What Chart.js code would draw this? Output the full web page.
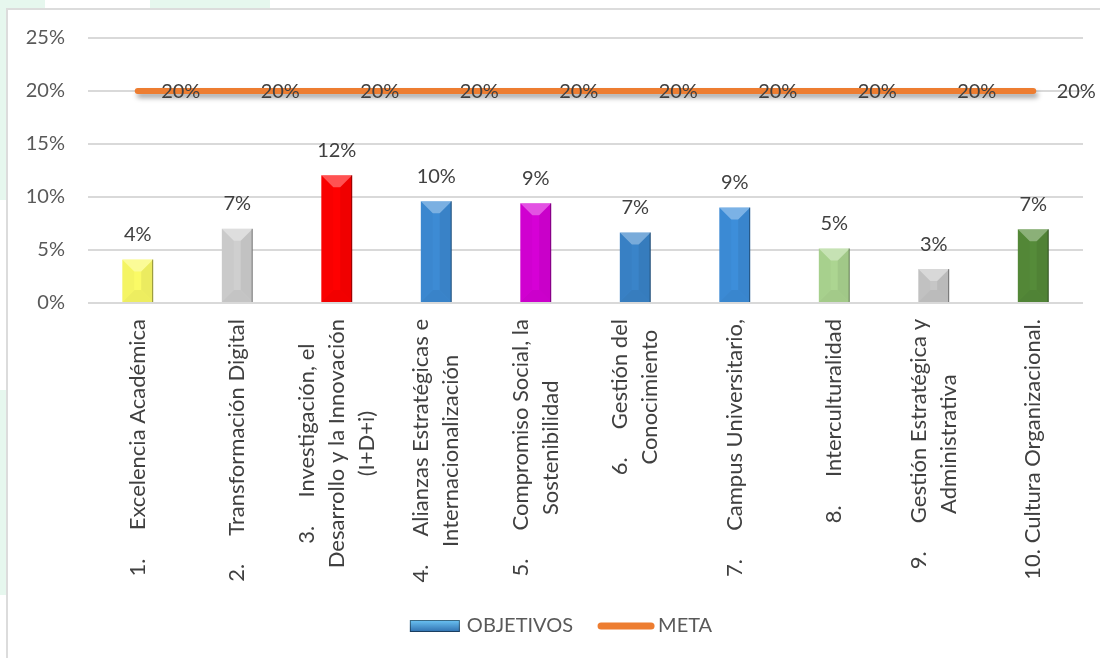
<!DOCTYPE html>
<html lang="es">
<head>
<meta charset="utf-8">
<title>Objetivos y meta</title>
<script src="https://cdn.jsdelivr.net/npm/chart.js@4"></script>
<style>
    html, body {
        margin: 0;
        width: 1100px;
        height: 658px;
        overflow: hidden;
        background: #ffffff;
        position: relative;
    }
    .mint {
        position: absolute;
        background: #e6f7ee;
    }
    #frame {
        position: absolute;
        left: 6px;
        top: 8px;
        width: 1130px;
        height: 700px;
        border: 2px solid #dcdcdc;
        background: #ffffff;
    }
    #frame canvas {
        position: absolute;
        left: 0;
        top: 0;
    }
</style>
</head>
<body>
<div class="mint" style="left:0;top:0;width:45px;height:200px"></div>
<div class="mint" style="left:150px;top:0;width:120px;height:12px"></div>
<div class="mint" style="left:0;top:390px;width:10px;height:205px"></div>
<div id="frame"><canvas id="objetivos" width="1106" height="650"></canvas></div>

<script>
const LABELS = [
    ['1.     Excelencia Académica'],
    ['2.     Transformación Digital'],
    ['3.     Investigación, el', 'Desarrollo y la Innovación', '(I+D+i)'],
    ['4.     Alianzas Estratégicas e', 'Internacionalización'],
    ['5.     Compromiso Social, la', 'Sostenibilidad'],
    ['6.     Gestión del', 'Conocimiento'],
    ['7.     Campus Universitario,'],
    ['8.     Interculturalidad'],
    ['9.     Gestión Estratégica y', 'Administrativa'],
    ['10. Cultura Organizacional.'],
];
const OBJETIVOS = [0.041, 0.070, 0.1205, 0.096, 0.094, 0.0665, 0.090, 0.0515, 0.032, 0.0695];
const META = [0.20, 0.20, 0.20, 0.20, 0.20, 0.20, 0.20, 0.20, 0.20, 0.20];
const Y_TICKS = [0, 0.05, 0.10, 0.15, 0.20, 0.25];

const BAR_COLORS = [
    '#fafa66',
    '#cfcfcf',
    '#ff0000',
    '#3d8bd4',
    '#d600d6',
    '#3a84c9',
    '#3d8eda',
    '#acd591',
    '#c6c6c6',
    '#558b39',
];
const META_COLOR = '#ed7d31';

const pct = v => Math.round(v * 100) + '%';

Chart.defaults.font.family = 'Lato';
Chart.defaults.font.size = 20;

// bevel look on every bar: light top edge, darker sides and bottom
const bevelBars = {
    id: 'bevelBars',
    afterDatasetDraw(chart, args) {
        if (args.index !== 0) return;
        const ctx = chart.ctx;
        args.meta.data.forEach(bar => {
            const w = bar.width;
            const l = bar.x - w / 2, r = bar.x + w / 2;
            const t = bar.y, b = bar.base;
            const d = Math.min(12, (b - t) / 2, w / 2 - 3);
            const quad = (pts, fill) => {
                ctx.beginPath();
                ctx.moveTo(pts[0][0], pts[0][1]);
                pts.slice(1).forEach(p => ctx.lineTo(p[0], p[1]));
                ctx.closePath();
                ctx.fillStyle = fill;
                ctx.fill();
            };
            ctx.save();
            quad([[l, t], [r, t], [r - d, t + d], [l + d, t + d]], 'rgba(255,255,255,0.32)');
            quad([[l, t], [l + d, t + d], [l + d, b - d], [l, b]], 'rgba(0,0,0,0.025)');
            quad([[r, t], [r - d, t + d], [r - d, b - d], [r, b]], 'rgba(0,0,0,0.06)');
            quad([[l, b], [l + d, b - d], [r - d, b - d], [r, b]], 'rgba(0,0,0,0.05)');
            ctx.strokeStyle = 'rgba(0,0,0,0.4)';
            ctx.lineWidth = 1;
            ctx.beginPath();
            ctx.moveTo(r - 0.5, t);
            ctx.lineTo(r - 0.5, b);
            ctx.stroke();
            ctx.restore();
        });
    }
};

// soft shadow under the META line
const lineShadow = {
    id: 'lineShadow',
    beforeDatasetDraw(chart, args) {
        if (args.index !== 1) return;
        const ctx = chart.ctx;
        ctx.save();
        ctx.shadowColor = 'rgba(0,0,0,0.35)';
        ctx.shadowBlur = 5;
        ctx.shadowOffsetX = 2;
        ctx.shadowOffsetY = 4;
    },
    afterDatasetDraw(chart, args) {
        if (args.index !== 1) return;
        chart.ctx.restore();
    }
};

// value labels: above each bar, right of each META point
const valueLabels = {
    id: 'valueLabels',
    afterDatasetsDraw(chart) {
        const ctx = chart.ctx;
        ctx.save();
        ctx.font = '20px Lato';
        ctx.fillStyle = '#404040';
        ctx.textAlign = 'center';
        ctx.textBaseline = 'middle';
        chart.getDatasetMeta(0).data.forEach((bar, i) => {
            ctx.fillText(pct(OBJETIVOS[i]), bar.x, bar.y - 25);
        });
        chart.getDatasetMeta(1).data.forEach((pt, i) => {
            ctx.fillText(pct(META[i]), pt.x + 43, pt.y + 1);
        });
        ctx.restore();
    }
};

// rotated category labels, wrapped lines centred on each other
const categoryLabels = {
    id: 'categoryLabels',
    afterDraw(chart) {
        const ctx = chart.ctx;
        const xs = chart.scales.x;
        const lineH = 30;
        ctx.save();
        ctx.font = '22px Lato';
        ctx.fillStyle = '#404040';
        ctx.textAlign = 'right';
        ctx.textBaseline = 'middle';
        LABELS.forEach((lines, i) => {
            const x = xs.getPixelForTick(i);
            const widths = lines.map(s => ctx.measureText(s).width);
            const maxW = Math.max(...widths);
            ctx.save();
            ctx.translate(x, xs.top + 16);
            ctx.rotate(-Math.PI / 2);
            lines.forEach((s, k) => {
                const off = (k - (lines.length - 1) / 2) * lineH;
                ctx.fillText(s, -(maxW - widths[k]) / 2, off);
            });
            ctx.restore();
        });
        ctx.restore();
    }
};

// legend at the bottom, drawn from the datasets
const bottomLegend = {
    id: 'bottomLegend',
    afterDraw(chart) {
        const ctx = chart.ctx;
        const ds = chart.data.datasets;
        const cy = chart.height - 34;
        ctx.save();
        ctx.font = '20px Lato';
        ctx.textBaseline = 'middle';
        ctx.textAlign = 'left';
        const w0 = ctx.measureText(ds[0].label).width;
        const w1 = ctx.measureText(ds[1].label).width;
        const total = 50 + 7 + w0 + 24 + 58 + 3 + w1;
        let x = chart.width / 2 - total / 2;

        const g = ctx.createLinearGradient(0, cy - 6, 0, cy + 6);
        g.addColorStop(0, '#6cc4f4');
        g.addColorStop(1, '#2f6fae');
        ctx.fillStyle = g;
        ctx.fillRect(x, cy - 6, 50, 12);
        ctx.strokeStyle = 'rgba(0,0,0,0.45)';
        ctx.lineWidth = 1;
        ctx.strokeRect(x + 0.5, cy - 5.5, 49, 11);
        x += 57;
        ctx.fillStyle = '#595959';
        ctx.fillText(ds[0].label, x, cy);
        x += w0 + 24;

        ctx.strokeStyle = META_COLOR;
        ctx.lineWidth = 7;
        ctx.lineCap = 'round';
        ctx.beginPath();
        ctx.moveTo(x + 4, cy);
        ctx.lineTo(x + 54, cy);
        ctx.stroke();
        x += 61;
        ctx.fillStyle = '#595959';
        ctx.fillText(ds[1].label, x, cy);
        ctx.restore();
    }
};

const ctx = document.getElementById('objetivos');
const myChart = new Chart(ctx, {
    data: {
        labels: LABELS,
        datasets: [
            {
                type: 'bar',
                label: 'OBJETIVOS',
                data: OBJETIVOS,
                backgroundColor: BAR_COLORS,
                borderWidth: 0,
                categoryPercentage: 1,
                barPercentage: 0.31,
            },
            {
                type: 'line',
                label: 'META',
                data: META,
                borderColor: META_COLOR,
                borderWidth: 6,
                borderCapStyle: 'round',
                pointRadius: 0,
                pointHoverRadius: 0,
                fill: false,
                tension: 0,
            }
        ]
    },
    options: {
        responsive: false,
        animation: false,
        layout: {
            padding: { top: 28, right: 31, bottom: 60, left: 0 }
        },
        plugins: {
            legend: { display: false },
            tooltip: { enabled: false }
        },
        scales: {
            x: {
                grid: { display: false },
                border: { display: false },
                ticks: { display: false },
                afterFit: scale => { scale.height = 297; }
            },
            y: {
                min: 0,
                max: 0.25,
                afterBuildTicks: scale => {
                    scale.ticks = Y_TICKS.map(v => ({ value: v }));
                },
                grid: {
                    color: '#d9d9d9',
                    lineWidth: 2,
                    drawTicks: false
                },
                border: { display: false },
                ticks: {
                    padding: 23,
                    color: '#595959',
                    font: { size: 20 },
                    callback: v => pct(v)
                },
                afterFit: scale => {
                    scale.width = 80;
                    scale.paddingTop = 0;
                    scale.paddingBottom = 0;
                }
            }
        }
    },
    plugins: [lineShadow, bevelBars, valueLabels, categoryLabels, bottomLegend]
});
</script>
</body>
</html>
